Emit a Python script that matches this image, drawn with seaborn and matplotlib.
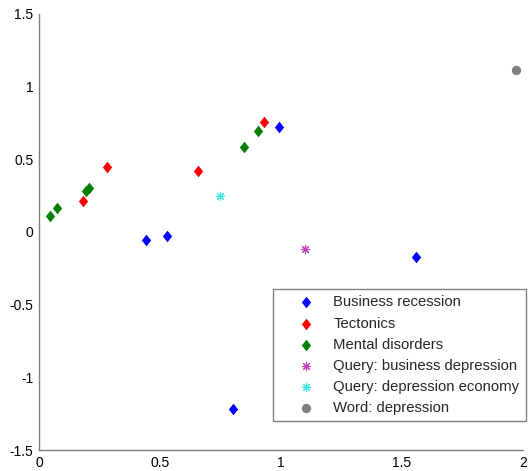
import matplotlib
matplotlib.use("Agg")
import matplotlib.pyplot as plt
from matplotlib.path import Path
import seaborn as sns

sns.set_style("white")
plt.rcParams['font.family'] = ['Liberation Sans', 'DejaVu Sans']

# Data
business_x = [0.441, 0.529, 0.800, 0.990, 1.558]
business_y = [-0.058, -0.026, -1.214, 0.720, -0.172]
tectonics_x = [0.183, 0.280, 0.657, 0.928]
tectonics_y = [0.210, 0.448, 0.416, 0.753]
mental_x = [0.045, 0.076, 0.195, 0.207, 0.847, 0.904]
mental_y = [0.111, 0.166, 0.284, 0.300, 0.583, 0.691]
query_bd_x = [1.100]
query_bd_y = [-0.117]
query_de_x = [0.747]
query_de_y = [0.249]
word_x = [1.970]
word_y = [1.112]

labels = ["Business recession", "Tectonics", "Mental disorders",
          "Query: business depression", "Query: depression economy",
          "Word: depression"]
xticks = [0, 0.5, 1, 1.5, 2]
yticks = [-1.5, -1, -0.5, 0, 0.5, 1, 1.5]
xtick_labels = ["0", "0.5", "1", "1.5", "2"]
ytick_labels = ["-1.5", "-1", "-0.5", "0", "0.5", "1", "1.5"]

fig = plt.figure(figsize=(5.29, 4.71), dpi=100)
ax = fig.add_axes([0.0737, 0.0439, 0.9150, 0.9274])

diamond = Path([(0, 1), (0.8, 0), (0, -1), (-0.8, 0), (0, 1)],
               [Path.MOVETO, Path.LINETO, Path.LINETO, Path.LINETO,
                Path.CLOSEPOLY])
star = (8, 2, 0)
ds = 70
sns.scatterplot(x=business_x, y=business_y, ax=ax, marker=diamond, s=ds,
                color=(0, 0, 1), linewidth=0, label=labels[0])
sns.scatterplot(x=tectonics_x, y=tectonics_y, ax=ax, marker=diamond, s=ds,
                color=(1, 0, 0), linewidth=0, label=labels[1])
sns.scatterplot(x=mental_x, y=mental_y, ax=ax, marker=diamond, s=ds,
                color=(0, 0.5, 0), linewidth=0, label=labels[2])
sns.scatterplot(x=query_bd_x, y=query_bd_y, ax=ax, marker=star, s=36,
                color=(0.75, 0.25, 0.75), edgecolor=(0.75, 0.25, 0.75),
                linewidth=0.8, label=labels[3])
sns.scatterplot(x=query_de_x, y=query_de_y, ax=ax, marker=star, s=36,
                color=(0.25, 0.9, 0.9), edgecolor=(0.25, 0.9, 0.9),
                linewidth=0.8, label=labels[4])
sns.scatterplot(x=word_x, y=word_y, ax=ax, marker='o', s=45,
                color=(0.5, 0.5, 0.5), linewidth=0, label=labels[5])

ax.set_xlim(0, 2)
ax.set_ylim(-1.5, 1.5)
ax.set_xticks(xticks)
ax.set_xticklabels(xtick_labels)
ax.set_yticks(yticks)
ax.set_yticklabels(ytick_labels)

for side in ['top', 'right']:
    ax.spines[side].set_visible(False)
for side in ['left', 'bottom']:
    ax.spines[side].set_color('#808080')
    ax.spines[side].set_linewidth(1.0)
ax.tick_params(direction='in', length=3, width=0.8, color='#808080',
               labelsize=10, labelcolor='black', pad=4)

leg = ax.legend(loc='upper left', bbox_to_anchor=(0.484, 0.369),
                fontsize=10.7, frameon=True, fancybox=False,
                edgecolor='#808080', borderpad=0.42, labelspacing=0.48,
                handletextpad=0.05, borderaxespad=0, handlelength=3.56,
                framealpha=1)
leg.get_frame().set_linewidth(1.0)

fig.savefig("out.png", dpi=100)
